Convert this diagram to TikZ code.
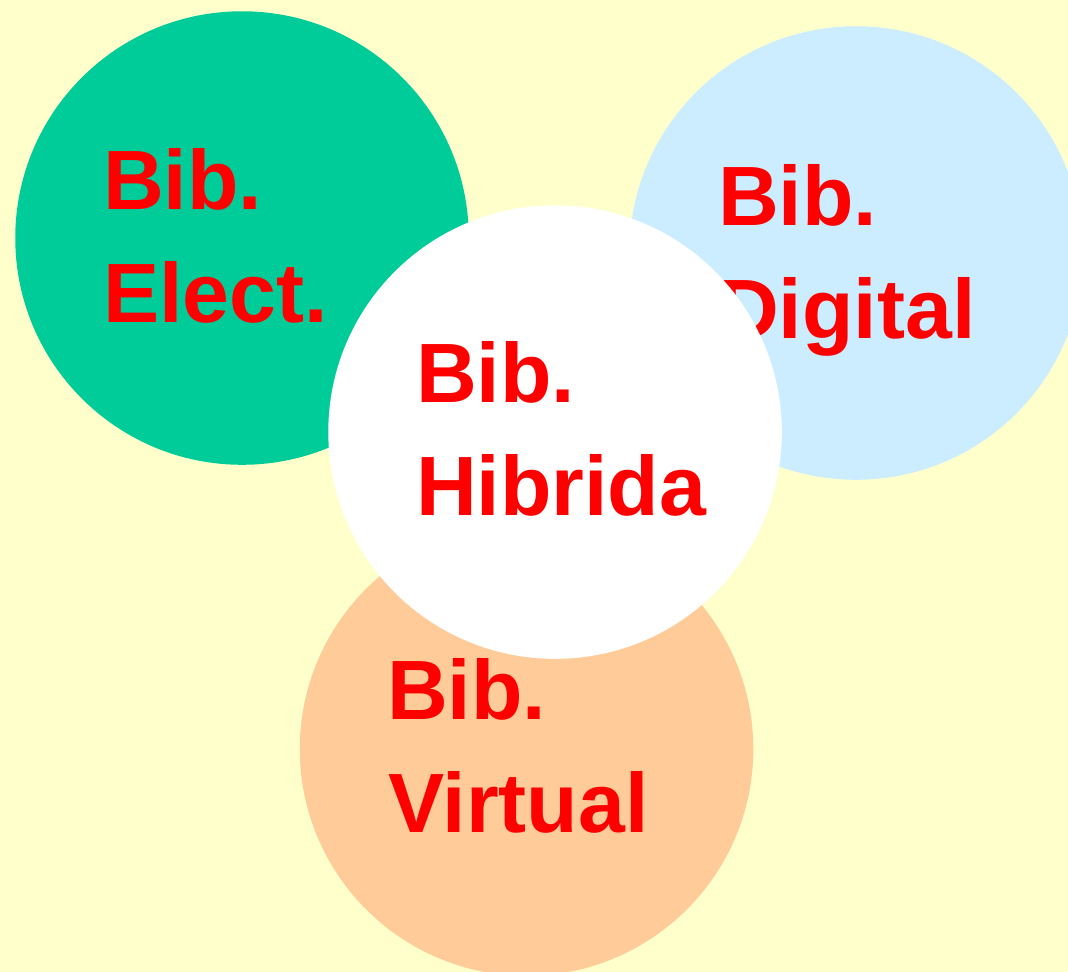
\documentclass[tikz,border=0pt]{standalone}
\usepackage{fontspec}
\setmainfont{Liberation Sans}
\definecolor{bgc}{RGB}{255,255,204}
\definecolor{greenc}{RGB}{0,204,153}
\definecolor{bluec}{RGB}{204,236,255}
\definecolor{orangec}{RGB}{255,204,153}
\tikzset{
  disc/.style={circle,draw=none,minimum size=453.5pt,inner sep=0pt,anchor=center},
  lab/.style={anchor=base west,inner sep=0pt,outer sep=0pt,text=red,font=\fontsize{84.2}{84.2}\selectfont\bfseries}
}
\begin{document}
\begin{tikzpicture}[x=1pt,y=-1pt]
\useasboundingbox (0,0) rectangle (1067.9,971.9);
\fill[bgc] (0,0) rectangle (1067.9,971.9);
\begin{scope}
\clip (0,0) rectangle (1067.9,971.9);
\node[disc,fill=greenc] (elect) at (242,238) {};
\node[disc,fill=bluec] (digital) at (856,253) {};
\node[disc,fill=orangec] (virtual) at (526.5,749) {};
\node[lab] (e1) at (103,209) {Bib.};
\node[lab] (e2) at (103,322) {Elect.};
\node[lab] (d1) at (718,225) {Bib.};
\node[lab] (d2) at (718,338) {Digital};
\node[lab] (v1) at (387,719) {Bib.};
\node[lab] (v2) at (388,832) {Virtual};
\node[disc,fill=white] (hibrida) at (555,432) {};
\node[lab] (h1) at (416,402) {Bib.};
\node[lab] (h2) at (416,515) {Hibrida};
\end{scope}
\end{tikzpicture}
\end{document}
